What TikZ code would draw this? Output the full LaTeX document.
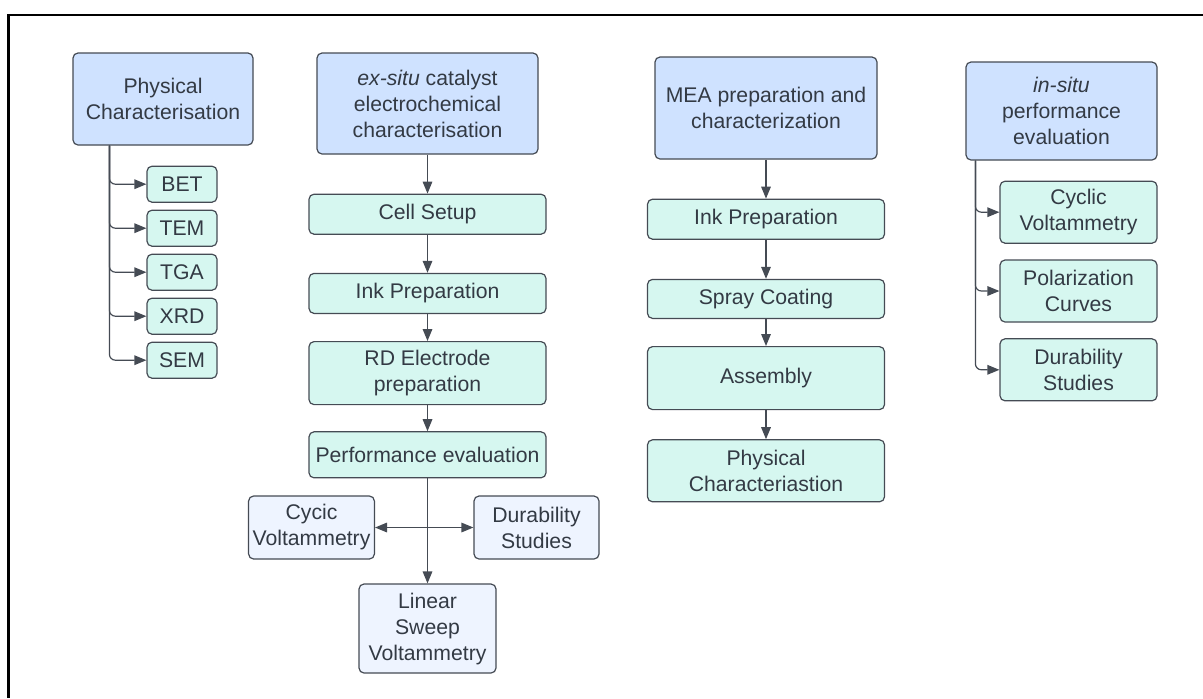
\documentclass[tikz,border=0pt]{standalone}
\usepackage{fontspec}
\setmainfont{Liberation Sans}
\usetikzlibrary{arrows.meta,positioning}
\definecolor{headblue}{HTML}{CFE2FF}
\definecolor{stepmint}{HTML}{D6F7F0}
\definecolor{leafblue}{HTML}{EEF4FF}
\definecolor{edgegray}{HTML}{454B54}
\definecolor{inkgray}{HTML}{333A44}

\begin{document}
\begin{tikzpicture}[
  x=0.5pt,y=-0.5pt,
  font=\fontsize{10.6}{13}\selectfont,
  head/.style={draw=edgegray,rounded corners=2.5pt,align=center,inner sep=2pt,
               line width=0.6pt,fill=headblue,text=inkgray},
  stepbox/.style={draw=edgegray,rounded corners=2.5pt,align=center,inner sep=2pt,
                  line width=0.6pt,fill=stepmint,text=inkgray},
  leaf/.style={draw=edgegray,rounded corners=2.5pt,align=center,inner sep=2pt,
               line width=0.6pt,fill=leafblue,text=inkgray},
  ar/.style={-{Triangle[length=6pt,width=4.8pt]},edgegray,line width=0.6pt}]
\useasboundingbox (0,0) rectangle (1203,698);
\draw[line width=1.4pt,black] (1203,15) -- (8.5,15) -- (8.5,698);
% physical characterisation
\node[head,minimum width=90pt,minimum height=46pt] (phys) at (163,99) {Physical\\Characterisation};
\node[stepbox,minimum width=35pt,minimum height=18pt,below=10pt of phys,xshift=9.5pt] (bet) {BET};
\node[stepbox,minimum width=35pt,minimum height=18pt,below=3.4pt of bet] (tem) {TEM};
\node[stepbox,minimum width=35pt,minimum height=18pt,below=3.4pt of tem] (tga) {TGA};
\node[stepbox,minimum width=35pt,minimum height=18pt,below=3.4pt of tga] (xrd) {XRD};
\node[stepbox,minimum width=35pt,minimum height=18pt,below=3.4pt of xrd] (sem) {SEM};
\coordinate (phtrunk) at ([xshift=18.5pt]phys.south west);
\draw[ar,rounded corners=3pt] (phtrunk) |- (bet);
\draw[ar,rounded corners=3pt] (phtrunk) |- (tem);
\draw[ar,rounded corners=3pt] (phtrunk) |- (tga);
\draw[ar,rounded corners=3pt] (phtrunk) |- (xrd);
\draw[ar,rounded corners=3pt] (phtrunk) |- (sem);
% ex-situ
\node[head,minimum width=110.5pt,minimum height=50.5pt] (exsitu) at (427.5,103.5)
  {\textit{ex-situ} catalyst\\electrochemical\\characterisation};
\node[stepbox,minimum width=118.5pt,minimum height=20pt,below=19.5pt of exsitu] (cell) {Cell Setup};
\node[stepbox,minimum width=118.5pt,minimum height=20pt,below=19pt of cell] (inkex) {Ink Preparation};
\node[stepbox,minimum width=118.5pt,minimum height=31.5pt,below=13.5pt of inkex] (rde) {RD Electrode\\preparation};
\node[stepbox,minimum width=118.5pt,minimum height=23pt,below=13pt of rde] (perf) {Performance evaluation};
\node[leaf,minimum width=62.5pt,minimum height=31.5pt,below=8.5pt of perf,xshift=-58pt] (cycic) {Cycic\\Voltammetry};
\node[leaf,minimum width=62.5pt,minimum height=31.5pt,below=8.5pt of perf,xshift=54.5pt] (durex) {Durability\\Studies};
\node[leaf,minimum width=68.5pt,minimum height=44.5pt,below=52.5pt of perf] (lsv) {Linear\\Sweep\\Voltammetry};
\draw[ar] (exsitu) -- (cell);
\draw[ar] (cell) -- (inkex);
\draw[ar] (inkex) -- (rde);
\draw[ar] (rde) -- (perf);
\draw[ar] (perf) -- (lsv);
\coordinate (pehub) at (perf.south |- cycic.east);
\draw[ar] (pehub) -- (cycic);
\draw[ar] (pehub) -- (durex);
% MEA
\node[head,minimum width=111pt,minimum height=51pt] (mea) at (766,108) {MEA preparation and\\characterization};
\node[stepbox,minimum width=118.5pt,minimum height=20pt,below=19.5pt of mea] (inkmea) {Ink Preparation};
\node[stepbox,minimum width=118.5pt,minimum height=19.5pt,below=19.5pt of inkmea] (spray) {Spray Coating};
\node[stepbox,minimum width=118.5pt,minimum height=31.5pt,below=13.5pt of spray] (assem) {Assembly};
\node[stepbox,minimum width=118.5pt,minimum height=31pt,below=14.5pt of assem] (physc) {Physical\\Characteriastion};
\draw[ar] (mea) -- (inkmea);
\draw[ar] (inkmea) -- (spray);
\draw[ar] (spray) -- (assem);
\draw[ar] (assem) -- (physc);
% in-situ
\node[head,minimum width=95.5pt,minimum height=49pt] (insitu) at (1061.5,111) {\textit{in-situ}\\performance\\evaluation};
\node[stepbox,minimum width=78.5pt,minimum height=31pt,below=10pt of insitu,xshift=8.5pt] (cv) {Cyclic\\Voltammetry};
\node[stepbox,minimum width=78.5pt,minimum height=31pt,below=7.8pt of cv] (pol) {Polarization\\Curves};
\node[stepbox,minimum width=78.5pt,minimum height=31pt,below=7.8pt of pol] (durin) {Durability\\Studies};
\coordinate (intrunk) at ([xshift=5pt]insitu.south west);
\draw[ar,rounded corners=3pt] (intrunk) |- (cv);
\draw[ar,rounded corners=3pt] (intrunk) |- (pol);
\draw[ar,rounded corners=3pt] (intrunk) |- (durin);
\end{tikzpicture}
\end{document}
